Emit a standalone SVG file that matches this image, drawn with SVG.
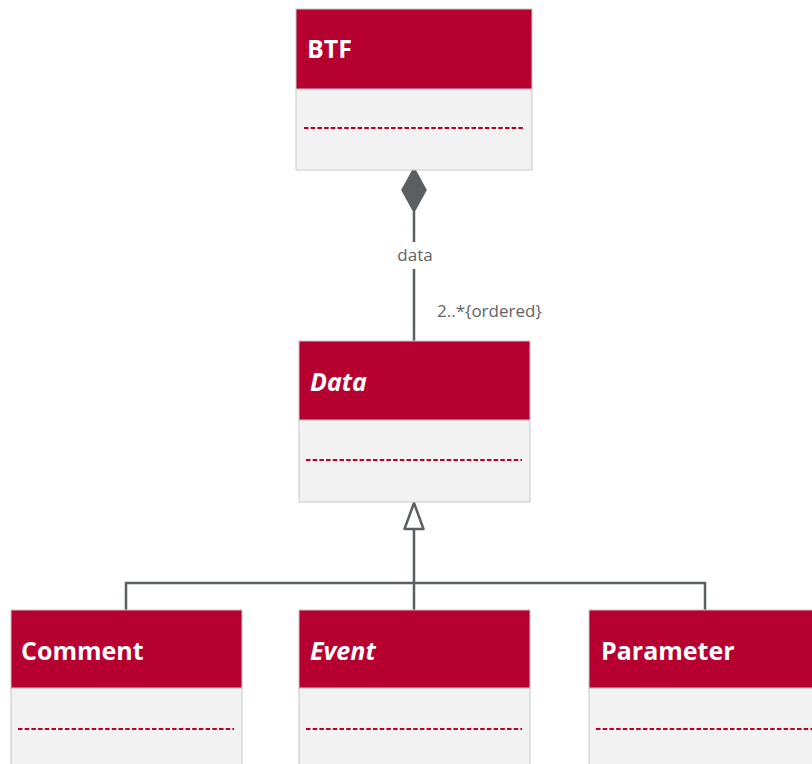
<svg xmlns="http://www.w3.org/2000/svg" width="812" height="764" viewBox="0 0 812 764">
<style>
.hd{fill:#B50030;stroke:#c8c8c8;stroke-width:1}
.bd{fill:#F2F2F2;stroke:#c8c8c8;stroke-width:1}
.dl{stroke:#B50030;stroke-width:2;stroke-dasharray:4.5 2.2;fill:none}
.tt{font-family:"Open Sans","Liberation Sans",sans-serif;font-weight:bold;font-size:25px;fill:#fff}
.it{font-style:italic}
.cn{stroke:#5a5f62;stroke-width:2.5;fill:none}
.lb{font-family:"Open Sans","Liberation Sans",sans-serif;font-size:17px;fill:#5f6366}
</style>
<rect width="812" height="764" fill="#fff"/>
<g id="connectors">
<line class="cn" x1="414" y1="212" x2="414" y2="242"/>
<line class="cn" x1="414" y1="269" x2="414" y2="341"/>
<polygon points="414,168 426,190 414,212 402,190" fill="#5a5f62" stroke="#5a5f62" stroke-width="1.5"/>
<text class="lb" x="415" y="261" text-anchor="middle">data</text>
<text class="lb" x="437" y="317">2..*{ordered}</text>
<polyline class="cn" points="126,610 126,583 705,583 705,610"/>
<line class="cn" x1="414" y1="529" x2="414" y2="610"/>
<polygon points="414,503 423.5,529 404.5,529" fill="#fff" stroke="#5a5f62" stroke-width="2.5" stroke-linejoin="round"/>
</g>
<g id="BTF">
<rect class="bd" x="296" y="89" width="236" height="81"/>
<rect class="hd" x="296" y="9" width="236" height="80"/>
<line class="dl" x1="304" y1="128" x2="525" y2="128"/>
<text class="tt" x="307" y="58">BTF</text>
</g>
<g id="Data">
<rect class="bd" x="299" y="420" width="231" height="82"/>
<rect class="hd" x="299" y="341" width="231" height="79"/>
<line class="dl" x1="306" y1="460" x2="522" y2="460"/>
<text class="tt it" x="310" y="391">Data</text>
</g>
<g id="Comment">
<rect class="bd" x="11" y="688" width="231" height="90"/>
<rect class="hd" x="11" y="610" width="231" height="78"/>
<line class="dl" x1="18" y1="729" x2="234" y2="729"/>
<text class="tt" x="21" y="660">Comment</text>
</g>
<g id="Event">
<rect class="bd" x="299" y="688" width="231" height="90"/>
<rect class="hd" x="299" y="610" width="231" height="78"/>
<line class="dl" x1="306" y1="729" x2="522" y2="729"/>
<text class="tt it" x="310" y="660">Event</text>
</g>
<g id="Parameter">
<rect class="bd" x="589" y="688" width="240" height="90"/>
<rect class="hd" x="589" y="610" width="240" height="78"/>
<line class="dl" x1="596" y1="729" x2="812" y2="729"/>
<text class="tt" x="601" y="660">Parameter</text>
</g>
</svg>
